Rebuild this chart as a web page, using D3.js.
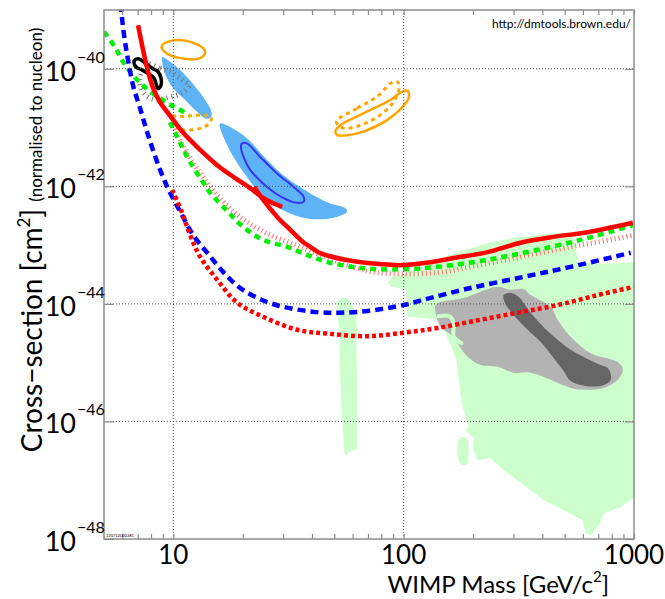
<!DOCTYPE html>
<html><head><meta charset="utf-8">
<script src="https://cdn.jsdelivr.net/npm/d3@7"></script>
<style>body{margin:0;background:#fff}svg{display:block}text{font-family:Lato,"Open Sans",sans-serif;fill:#000}</style>
</head><body><svg id="c" width="665" height="599"></svg>
<script>
// ---- tick values ----
const xTickMajor=[10,100,1000];
const xTickMinor=[6,7,8,9,20,30,40,50,60,70,80,90,200,300,400,500,600,700,800,900];
const yTickExps=[-40,-42,-44,-46,-48];
const yGridExps=[-40,-42,-44,-46];
const xGrid=[10,100];
// ---- data: [WIMP mass GeV, log10(sigma cm^2)] ----
const greenRegion=[[85.8,-43.63],[89.4,-43.53],[100,-43.49],[130.8,-43.29],[171.3,-43.12],[238.4,-42.95],[321.9,-42.86],[466.2,-42.79],[541.6,-42.79],[558,-43.03],[569.3,-43.29],[716.9,-43.32],[1000,-43.29],[1000,-47.29],[875.8,-47.46],[739,-47.56],[696,-47.80],[648.6,-47.93],[617,-47.91],[598.8,-47.68],[495,-47.51],[405.3,-47.34],[312.4,-47.00],[271.5,-46.83],[238.4,-46.62],[209.3,-46.66],[201.1,-46.49],[201.1,-46.28],[185.6,-46.15],[191.3,-46.08],[180.1,-45.75],[173.1,-45.29],[169.6,-44.95],[159.8,-44.70],[144.6,-44.27],[103.9,-44.22],[102.9,-43.76],[87.6,-43.71]];
const greenIsland=[[173.1,-46.32],[180.1,-46.26],[189.4,-46.32],[191.3,-46.57],[189.4,-46.71],[178.3,-46.74],[173.1,-46.66]];
const greenStrip=[[51.0,-43.97],[54.1,-43.90],[57.5,-43.90],[59.9,-44.02],[62.3,-44.24],[62.9,-44.44],[62.3,-44.70],[62.9,-45.29],[62.9,-45.98],[62.9,-46.47],[59.9,-46.50],[57.5,-46.52],[56.4,-46.57],[55.3,-46.55],[54.1,-45.98],[53.1,-45.29],[52.5,-44.44],[51.5,-44.10]];
const greenHook=[[141.7,-44.21],[158.1,-44.21],[164.6,-44.31],[164.6,-44.55],[169.6,-44.61],[178.3,-44.67]];
const grayRegion=[[137.5,-44.02],[144.6,-43.97],[181.9,-43.90],[231.3,-43.75],[255.7,-43.71],[291.2,-43.76],[331.7,-43.75],[355.7,-43.85],[434.6,-44.05],[466.2,-44.27],[530.9,-44.56],[648.6,-44.84],[850,-44.99],[894,-45.12],[850,-45.29],[739,-45.43],[604.8,-45.46],[530.9,-45.43],[434.6,-45.29],[355.7,-45.17],[300.2,-45.17],[255.7,-45.07],[215.7,-45.04],[189.4,-44.90],[171.3,-44.67],[164.6,-44.56],[144.6,-44.39],[137.5,-44.15]];
const darkRegion=[[271.5,-43.85],[291.2,-43.81],[315.5,-43.88],[355.7,-44.15],[434.6,-44.51],[530.9,-44.78],[696,-45.02],[776.6,-45.11],[792.4,-45.29],[739,-45.38],[629.5,-45.40],[530.9,-45.31],[495,-45.14],[447.9,-44.92],[393.2,-44.65],[345.4,-44.44],[300.2,-44.19],[274.2,-43.97]];
const blueRegion1=[[8.94,-39.80],[9.68,-39.88],[10.70,-40.02],[12.19,-40.26],[13.75,-40.53],[14.6,-40.72],[14.6,-40.82],[13.89,-40.85],[12.82,-40.75],[11.25,-40.53],[9.98,-40.33],[9.21,-40.09],[8.94,-39.88]];
const blueRegion2=[[15.98,-40.93],[17.66,-40.99],[20.86,-41.18],[25.5,-41.55],[31.14,-41.86],[39.32,-42.12],[48.0,-42.29],[55.8,-42.37],[56.8,-42.43],[51.4,-42.52],[42.1,-42.56],[35.57,-42.52],[28.2,-42.35],[23.84,-42.12],[20.86,-41.84],[18.24,-41.50],[16.5,-41.16],[15.87,-40.96]];
const blueContour=[[19.85,-41.27],[20.86,-41.27],[23.84,-41.50],[28.2,-41.78],[33.27,-42.01],[36.8,-42.18],[36.8,-42.26],[34.4,-42.28],[30.1,-42.20],[25.5,-42.01],[21.57,-41.72],[20.17,-41.50],[19.65,-41.33]];
const orangeTop=[[8.94,-39.60],[9.68,-39.53],[10.70,-39.51],[12.07,-39.55],[13.47,-39.65],[13.75,-39.73],[13.08,-39.82],[11.83,-39.84],[10.49,-39.81],[9.48,-39.75],[8.94,-39.66]];
const orangeDottedLeft=[[9.88,-40.80],[11.25,-40.81],[12.69,-40.79],[13.89,-40.79],[14.6,-40.82],[14.46,-40.91],[13.75,-40.98],[12.56,-41.03],[11.25,-41.04],[10.28,-41.01]];
const orangeRight=[[50.5,-41.07],[53.1,-40.96],[66.8,-40.76],[85.0,-40.56],[98.8,-40.39],[103.9,-40.37],[105.5,-40.48],[98.8,-40.65],[85.0,-40.87],[66.8,-41.07],[56.9,-41.13],[51.5,-41.13]];
const orangeDottedRight=[[51.0,-40.90],[62.9,-40.67],[76.9,-40.47],[87.6,-40.25],[93.9,-40.22],[95.3,-40.36],[89.4,-40.59],[76.9,-40.82],[64.9,-40.96],[54.7,-41.01]];
const blackContour=[[6.75,-39.87],[7.03,-39.83],[7.54,-39.90],[8.09,-39.99],[8.58,-40.05],[8.84,-40.16],[8.84,-40.28],[8.58,-40.34],[8.42,-40.26],[8.25,-40.16],[7.85,-40.09],[7.31,-40.02],[6.89,-39.97]];
const grayHatchContour=[[7.77,-39.92],[8.76,-39.99],[9.88,-40.07],[10.92,-40.19],[11.71,-40.29],[10.92,-40.41],[9.68,-40.48],[8.58,-40.53],[7.77,-40.48],[7.24,-40.33],[7.17,-40.16],[7.39,-40.00]];
const lightRedHatch=[[9.98,-40.96],[10.70,-41.21],[11.83,-41.52],[13.47,-41.84],[15.5,-42.15],[18.19,-42.42],[21.57,-42.64],[26.35,-42.83],[32.19,-42.96],[39.32,-43.10],[48.0,-43.24],[58.7,-43.36],[73.9,-43.46],[100,-43.49],[144.6,-43.46],[195.1,-43.37],[321.9,-43.20],[530.9,-43.03],[696,-42.95],[1000,-42.83]];
const greenDashedA=[[5,-39.37],[5.58,-39.63],[6.05,-39.88],[6.68,-40.11],[7.77,-40.36],[9.39,-40.58],[10.49,-40.68],[11.71,-40.79]];
const greenDashedB=[[9.68,-40.91],[10.18,-41.09],[10.70,-41.26],[11.83,-41.59],[13.47,-41.93],[14.46,-42.11],[17.14,-42.42],[20.10,-42.69],[24.56,-42.91],[31.24,-43.03],[38.2,-43.17],[48.0,-43.30],[69.6,-43.40],[100,-43.41],[140.3,-43.37],[231.3,-43.25],[381.9,-43.08],[629.5,-42.88],[988,-42.66]];
const blueDashed=[[5.9,-38.9],[6.11,-39.43],[6.36,-39.85],[6.68,-40.28],[7.17,-40.67],[7.77,-41.13],[8.76,-41.72],[9.68,-42.11],[10.92,-42.49],[12.19,-42.83],[14.03,-43.13],[16.49,-43.46],[19.51,-43.73],[23.84,-43.92],[30.0,-44.05],[42.2,-44.14],[53.1,-44.15],[69.6,-44.12],[100,-44.02],[122,-43.93],[195,-43.73],[332,-43.54],[531,-43.37],[968,-43.13]];
const redDotted=[[9.88,-42.06],[10.92,-42.45],[11.83,-42.83],[13.08,-43.20],[15.5,-43.59],[18.93,-43.98],[24.56,-44.22],[34.5,-44.44],[48.0,-44.51],[69.6,-44.55],[100,-44.49],[140.3,-44.41],[215.7,-44.27],[321.9,-44.14],[466,-44.02],[696,-43.85],[1000,-43.71]];
const redSolid1=[[7.03,-39.26],[7.39,-39.68],[7.77,-40.05],[8.17,-40.33],[8.76,-40.57],[9.68,-40.80],[11.04,-41.09],[13.08,-41.38],[15.5,-41.64],[18.56,-41.86],[21.57,-42.03],[25.06,-42.22],[29.7,-42.35]];
const redSolid2=[[22.45,-42.01],[24.56,-42.23],[28.26,-42.52],[32.19,-42.74],[36.65,-42.95],[39.32,-43.03],[42.6,-43.12],[48.0,-43.19],[55.8,-43.25],[71.7,-43.31],[100,-43.34],[130.8,-43.29],[164.6,-43.22],[231.3,-43.12],[321.9,-42.96],[447.9,-42.86],[629.5,-42.78],[988,-42.62]];

const L=104,R=634,T=10,B=539;
const svg=d3.select("#c");
const x=d3.scaleLog().domain([5,1000]).range([L,R]);
const y=d3.scaleLog().domain([1e-48,1e-39]).range([B,T]);
const px=d=>x(d[0]), py=d=>y(Math.pow(10,d[1]));

svg.append("defs").append("clipPath").attr("id","clip").append("rect").attr("x",L).attr("y",T).attr("width",R-L).attr("height",B-T);
const plot=svg.append("g").attr("clip-path","url(#clip)");

const linClosed=d3.line().x(px).y(py).curve(d3.curveLinearClosed);
const smooth=d3.line().x(px).y(py).curve(d3.curveCatmullRom.alpha(0.5));
const smoothClosed=d3.line().x(px).y(py).curve(d3.curveCatmullRomClosed.alpha(0.5));

// fills
const lg="#ccffcc";
plot.append("path").attr("d",linClosed(greenRegion)).attr("fill",lg);
plot.append("path").attr("d",smoothClosed(greenIsland)).attr("fill",lg);
plot.append("path").attr("d",linClosed(greenStrip)).attr("fill",lg);
plot.append("path").attr("d",smoothClosed(grayRegion)).attr("fill","#b3b3b3");
plot.append("path").attr("d",smoothClosed(darkRegion)).attr("fill","#666666");
plot.append("path").attr("d",smooth(greenHook)).attr("fill","none").attr("stroke",lg).attr("stroke-width",4).attr("stroke-linecap","round");
plot.append("path").attr("d",smoothClosed(blueRegion1)).attr("fill","#5eb3f6");
plot.append("path").attr("d",smoothClosed(blueRegion2)).attr("fill","#5eb3f6");

// grid
const grid=svg.append("g").attr("stroke","#555").attr("stroke-width",1).attr("stroke-dasharray","1,2");
xGrid.forEach(v=>grid.append("line").attr("x1",x(v)).attr("x2",x(v)).attr("y1",T).attr("y2",B));
yGridExps.forEach(e=>grid.append("line").attr("x1",L).attr("x2",R).attr("y1",y(Math.pow(10,e))).attr("y2",y(Math.pow(10,e))));

// contours and limit lines
function draw(data,gen,stroke,w,dash){
  const p=plot.append("path").attr("d",gen(data)).attr("fill","none").attr("stroke",stroke).attr("stroke-width",w).attr("stroke-linejoin","round");
  if(dash)p.attr("stroke-dasharray",dash);
  return p;
}
draw(blueContour,smoothClosed,"#3535f0",2);
draw(orangeTop,smoothClosed,"#ffa500",2.5);
draw(orangeDottedLeft,smooth,"#ffa500",3,"4,4");
draw(orangeRight,smoothClosed,"#ffa500",2.5);
draw(orangeDottedRight,smoothClosed,"#ffa500",3,"4,4");
draw(grayHatchContour,smoothClosed,"#777",5,"1,4");
draw(blackContour,smoothClosed,"#000",3.5);
draw(lightRedHatch,smooth,"#ff6e6e",5,"1,3");
draw(greenDashedA,smooth,"#00ee00",4.5,"6,5");
draw(greenDashedB,smooth,"#00ee00",4.5,"6,5");
draw(blueDashed,smooth,"#0000ff",4.5,"8,5");
draw(redDotted,smooth,"#ff0000",4.5,"4,3");
draw(redSolid1,smooth,"#ff0000",4.5);
draw(redSolid2,smooth,"#ff0000",4.5);

// frame
svg.append("rect").attr("x",L).attr("y",T).attr("width",R-L).attr("height",B-T).attr("fill","none").attr("stroke","#8c8c8c").attr("stroke-width",1.5);

// axes ticks
const allX=xTickMinor.concat(xTickMajor);
const tickStyle=g=>{g.select(".domain").remove();g.selectAll(".tick line").attr("stroke","#8c8c8c").attr("stroke-width",1.2);g.selectAll("text").remove();};
svg.append("g").attr("transform",`translate(0,${B})`).call(d3.axisBottom(x).tickValues(allX).tickSize(-5).tickFormat("")).call(tickStyle);
svg.append("g").attr("transform",`translate(0,${T})`).call(d3.axisTop(x).tickValues(allX).tickSize(-5).tickFormat("")).call(tickStyle);
const yVals=yTickExps.map(e=>Math.pow(10,e));
svg.append("g").attr("transform",`translate(${L},0)`).call(d3.axisLeft(y).tickValues(yVals).tickSize(-10).tickFormat("")).call(tickStyle);
svg.append("g").attr("transform",`translate(${R},0)`).call(d3.axisRight(y).tickValues(yVals).tickSize(-9).tickFormat("")).call(tickStyle);

// tick labels
yTickExps.forEach(e=>{
  const yy=y(Math.pow(10,e));
  svg.append("text").attr("x",76).attr("y",yy+12).attr("text-anchor","end").attr("font-size",27).text("10");
  svg.append("text").attr("x",77).attr("y",yy-6).attr("font-size",16).text("\u2212"+Math.abs(e));
});
xTickMajor.forEach(v=>{
  svg.append("text").attr("x",x(v)).attr("y",564).attr("text-anchor","middle").attr("font-size",26).text(v);
});

// axis titles
const xt=svg.append("text").attr("x",609).attr("y",593).attr("text-anchor","end").attr("font-size",24);
xt.append("tspan").text("WIMP Mass [GeV/c");
xt.append("tspan").attr("font-size",15).attr("dy",-11).text("2");
xt.append("tspan").attr("dy",11).text("]");

const yt=svg.append("text").attr("transform","translate(42,240) rotate(-90)").attr("text-anchor","middle").attr("font-size",28);
yt.append("tspan").text("Cross\u2212section [cm");
yt.append("tspan").attr("font-size",17).attr("dy",-12).text("2");
yt.append("tspan").attr("dy",12).text("] ");
yt.append("tspan").attr("font-size",17).text("(normalised to nucleon)");

svg.append("text").attr("x",631).attr("y",28).attr("text-anchor","end").attr("font-size",12).text("http://dmtools.brown.edu/");
svg.append("text").attr("x",106).attr("y",537).attr("font-size",4).attr("fill","#555").text("120712000281");
</script></body></html>
